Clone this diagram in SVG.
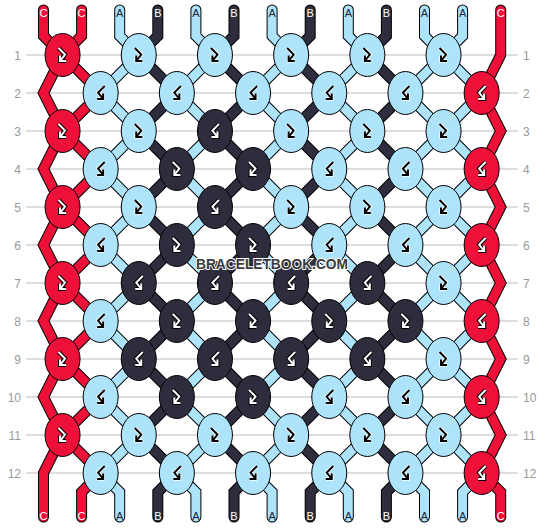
<svg xmlns="http://www.w3.org/2000/svg" xmlns:xlink="http://www.w3.org/1999/xlink" width="544" height="528" viewBox="0 0 544 528">
<style>
.grid{stroke:#bbb;stroke-width:1}
.rn{font-family:"Liberation Sans",Arial,sans-serif;font-size:12px;fill:#999}
.sl{font-family:"Liberation Sans",Arial,sans-serif;font-size:11px;text-anchor:middle}
.lw{fill:#fff}.lk{fill:#223}
.o{fill:none;stroke:#000;stroke-width:11;stroke-linecap:round;stroke-linejoin:miter}
.f{fill:none;stroke-width:9;stroke-linecap:round;stroke-linejoin:miter}
.fC{stroke:#ED1039}.fA{stroke:#ADE3FB}.fB{stroke:#2E2D3D}
.nC{fill:#ED1039;stroke:#000;stroke-width:1}
.nA{fill:#ADE3FB;stroke:#000;stroke-width:1}
.nB{fill:#2E2D3D;stroke:#000;stroke-width:1}
.wm{font-family:"Liberation Sans",Arial,sans-serif;font-weight:bold;font-size:15px;fill:#3a3a3a;stroke:#fff;stroke-width:2;paint-order:stroke;text-anchor:middle}
</style>
<defs>
<path id="ic" d="M-4,-7 L2.5,-0.5 L-2.5,6 M-2.5,0.5 L-2.5,6 L3.5,6"/>
<g id="fbW" fill="none"><use href="#ic" stroke="#000" stroke-width="4"/><use href="#ic" stroke="#fff" stroke-width="2"/></g>
<g id="fbK" fill="none"><use href="#ic" stroke="#fff" stroke-width="3.5"/><use href="#ic" stroke="#000" stroke-width="2"/></g>
<g id="bfW" transform="scale(-1,1)"><use href="#fbW"/></g>
<g id="bfK" transform="scale(-1,1)"><use href="#fbK"/></g>
<polyline id="s0" points="43.5,10 43.5,36 62.55,55 43.5,93 62.55,131 43.5,169 62.55,207 43.5,245 62.55,283 43.5,321 62.55,359 43.5,397 62.55,435 43.5,473 43.5,492 43.5,517"/>
<polyline id="s1" points="81.6,10 81.6,36 62.55,55 100.65,93 62.55,131 100.65,169 62.55,207 100.65,245 62.55,283 100.65,321 62.55,359 100.65,397 62.55,435 100.65,473 81.6,492 81.6,517"/>
<polyline id="s2" points="119.7,10 119.7,36 138.75,55 100.65,93 138.75,131 100.65,169 138.75,207 100.65,245 138.75,283 100.65,321 138.75,359 100.65,397 138.75,435 100.65,473 119.7,492 119.7,517"/>
<polyline id="s3" points="157.8,10 157.8,36 138.75,55 176.85,93 138.75,131 176.85,169 138.75,207 176.85,245 138.75,283 176.85,321 138.75,359 176.85,397 138.75,435 176.85,473 157.8,492 157.8,517"/>
<polyline id="s4" points="195.9,10 195.9,36 214.95,55 176.85,93 214.95,131 176.85,169 214.95,207 176.85,245 214.95,283 176.85,321 214.95,359 176.85,397 214.95,435 176.85,473 195.9,492 195.9,517"/>
<polyline id="s5" points="234,10 234,36 214.95,55 253.05,93 214.95,131 253.05,169 214.95,207 253.05,245 214.95,283 253.05,321 214.95,359 253.05,397 214.95,435 253.05,473 234,492 234,517"/>
<polyline id="s6" points="272.1,10 272.1,36 291.15,55 253.05,93 291.15,131 253.05,169 291.15,207 253.05,245 291.15,283 253.05,321 291.15,359 253.05,397 291.15,435 253.05,473 272.1,492 272.1,517"/>
<polyline id="s7" points="310.2,10 310.2,36 291.15,55 329.25,93 291.15,131 329.25,169 291.15,207 329.25,245 291.15,283 329.25,321 291.15,359 329.25,397 291.15,435 329.25,473 310.2,492 310.2,517"/>
<polyline id="s8" points="348.3,10 348.3,36 367.35,55 329.25,93 367.35,131 329.25,169 367.35,207 329.25,245 367.35,283 329.25,321 367.35,359 329.25,397 367.35,435 329.25,473 348.3,492 348.3,517"/>
<polyline id="s9" points="386.4,10 386.4,36 367.35,55 405.45,93 367.35,131 405.45,169 367.35,207 405.45,245 367.35,283 405.45,321 367.35,359 405.45,397 367.35,435 405.45,473 386.4,492 386.4,517"/>
<polyline id="s10" points="424.5,10 424.5,36 443.55,55 405.45,93 443.55,131 405.45,169 443.55,207 405.45,245 443.55,283 405.45,321 443.55,359 405.45,397 443.55,435 405.45,473 424.5,492 424.5,517"/>
<polyline id="s11" points="462.6,10 462.6,36 443.55,55 481.65,93 443.55,131 481.65,169 443.55,207 481.65,245 443.55,283 481.65,321 443.55,359 481.65,397 443.55,435 481.65,473 462.6,492 462.6,517"/>
<polyline id="s12" points="500.7,10 500.7,36 500.7,55 481.65,93 500.7,131 481.65,169 500.7,207 481.65,245 500.7,283 481.65,321 500.7,359 481.65,397 500.7,435 481.65,473 500.7,492 500.7,517"/>
</defs>
<rect width="544" height="528" fill="#fff"/>
<g id="grid">
<line class="grid" x1="26" y1="55" x2="518" y2="55"/>
<line class="grid" x1="26" y1="93" x2="518" y2="93"/>
<line class="grid" x1="26" y1="131" x2="518" y2="131"/>
<line class="grid" x1="26" y1="169" x2="518" y2="169"/>
<line class="grid" x1="26" y1="207" x2="518" y2="207"/>
<line class="grid" x1="26" y1="245" x2="518" y2="245"/>
<line class="grid" x1="26" y1="283" x2="518" y2="283"/>
<line class="grid" x1="26" y1="321" x2="518" y2="321"/>
<line class="grid" x1="26" y1="359" x2="518" y2="359"/>
<line class="grid" x1="26" y1="397" x2="518" y2="397"/>
<line class="grid" x1="26" y1="435" x2="518" y2="435"/>
<line class="grid" x1="26" y1="473" x2="518" y2="473"/>
</g>
<g id="row-numbers" class="rn">
<g text-anchor="end">
<text x="21" y="59.5">1</text><text x="21" y="97.5">2</text><text x="21" y="135.5">3</text><text x="21" y="173.5">4</text><text x="21" y="211.5">5</text><text x="21" y="249.5">6</text><text x="21" y="287.5">7</text><text x="21" y="325.5">8</text><text x="21" y="363.5">9</text><text x="21" y="401.5">10</text><text x="21" y="439.5">11</text><text x="21" y="477.5">12</text>
</g>
<g text-anchor="start">
<text x="523" y="59.5">1</text><text x="523" y="97.5">2</text><text x="523" y="135.5">3</text><text x="523" y="173.5">4</text><text x="523" y="211.5">5</text><text x="523" y="249.5">6</text><text x="523" y="287.5">7</text><text x="523" y="325.5">8</text><text x="523" y="363.5">9</text><text x="523" y="401.5">10</text><text x="523" y="439.5">11</text><text x="523" y="477.5">12</text>
</g>
</g>
<g id="connectors">
<g class="o">
<use href="#s0"/><use href="#s1"/><use href="#s2"/><use href="#s3"/><use href="#s4"/><use href="#s5"/><use href="#s6"/><use href="#s7"/><use href="#s8"/><use href="#s9"/><use href="#s10"/><use href="#s11"/><use href="#s12"/>
</g>
<g class="f">
<use href="#s0" class="fC"/><use href="#s1" class="fC"/><use href="#s2" class="fA"/><use href="#s3" class="fB"/><use href="#s4" class="fA"/><use href="#s5" class="fB"/><use href="#s6" class="fA"/><use href="#s7" class="fB"/><use href="#s8" class="fA"/><use href="#s9" class="fB"/><use href="#s10" class="fA"/><use href="#s11" class="fA"/><use href="#s12" class="fC"/>
</g>
</g>
<g id="strand-labels" class="sl">
<text x="43.5" y="16.5" class="lw">C</text><text x="81.6" y="16.5" class="lw">C</text><text x="119.7" y="16.5" class="lk">A</text><text x="157.8" y="16.5" class="lw">B</text><text x="195.9" y="16.5" class="lk">A</text><text x="234" y="16.5" class="lw">B</text><text x="272.1" y="16.5" class="lk">A</text><text x="310.2" y="16.5" class="lw">B</text><text x="348.3" y="16.5" class="lk">A</text><text x="386.4" y="16.5" class="lw">B</text><text x="424.5" y="16.5" class="lk">A</text><text x="462.6" y="16.5" class="lk">A</text><text x="500.7" y="16.5" class="lw">C</text>
<text x="43.5" y="520" class="lw">C</text><text x="81.6" y="520" class="lw">C</text><text x="119.7" y="520" class="lk">A</text><text x="157.8" y="520" class="lw">B</text><text x="195.9" y="520" class="lk">A</text><text x="234" y="520" class="lw">B</text><text x="272.1" y="520" class="lk">A</text><text x="310.2" y="520" class="lw">B</text><text x="348.3" y="520" class="lk">A</text><text x="386.4" y="520" class="lw">B</text><text x="424.5" y="520" class="lk">A</text><text x="462.6" y="520" class="lk">A</text><text x="500.7" y="520" class="lw">C</text>
</g>
<g id="nodes">
<!-- row 1 -->
<g id="n1-1"><ellipse class="nC" cx="62.55" cy="55" rx="17.5" ry="21.5"/><use href="#fbW" x="62.55" y="55"/></g>
<g id="n1-2"><ellipse class="nA" cx="138.75" cy="55" rx="17.5" ry="21.5"/><use href="#fbK" x="138.75" y="55"/></g>
<g id="n1-3"><ellipse class="nA" cx="214.95" cy="55" rx="17.5" ry="21.5"/><use href="#fbK" x="214.95" y="55"/></g>
<g id="n1-4"><ellipse class="nA" cx="291.15" cy="55" rx="17.5" ry="21.5"/><use href="#fbK" x="291.15" y="55"/></g>
<g id="n1-5"><ellipse class="nA" cx="367.35" cy="55" rx="17.5" ry="21.5"/><use href="#fbK" x="367.35" y="55"/></g>
<g id="n1-6"><ellipse class="nA" cx="443.55" cy="55" rx="17.5" ry="21.5"/><use href="#fbK" x="443.55" y="55"/></g>
<!-- row 2 -->
<g id="n2-1"><ellipse class="nA" cx="100.65" cy="93" rx="17.5" ry="21.5"/><use href="#bfK" x="100.65" y="93"/></g>
<g id="n2-2"><ellipse class="nA" cx="176.85" cy="93" rx="17.5" ry="21.5"/><use href="#bfK" x="176.85" y="93"/></g>
<g id="n2-3"><ellipse class="nA" cx="253.05" cy="93" rx="17.5" ry="21.5"/><use href="#bfK" x="253.05" y="93"/></g>
<g id="n2-4"><ellipse class="nA" cx="329.25" cy="93" rx="17.5" ry="21.5"/><use href="#bfK" x="329.25" y="93"/></g>
<g id="n2-5"><ellipse class="nA" cx="405.45" cy="93" rx="17.5" ry="21.5"/><use href="#bfK" x="405.45" y="93"/></g>
<g id="n2-6"><ellipse class="nC" cx="481.65" cy="93" rx="17.5" ry="21.5"/><use href="#bfW" x="481.65" y="93"/></g>
<!-- row 3 -->
<g id="n3-1"><ellipse class="nC" cx="62.55" cy="131" rx="17.5" ry="21.5"/><use href="#fbW" x="62.55" y="131"/></g>
<g id="n3-2"><ellipse class="nA" cx="138.75" cy="131" rx="17.5" ry="21.5"/><use href="#fbK" x="138.75" y="131"/></g>
<g id="n3-3"><ellipse class="nB" cx="214.95" cy="131" rx="17.5" ry="21.5"/><use href="#bfW" x="214.95" y="131"/></g>
<g id="n3-4"><ellipse class="nA" cx="291.15" cy="131" rx="17.5" ry="21.5"/><use href="#fbK" x="291.15" y="131"/></g>
<g id="n3-5"><ellipse class="nA" cx="367.35" cy="131" rx="17.5" ry="21.5"/><use href="#fbK" x="367.35" y="131"/></g>
<g id="n3-6"><ellipse class="nA" cx="443.55" cy="131" rx="17.5" ry="21.5"/><use href="#fbK" x="443.55" y="131"/></g>
<!-- row 4 -->
<g id="n4-1"><ellipse class="nA" cx="100.65" cy="169" rx="17.5" ry="21.5"/><use href="#bfK" x="100.65" y="169"/></g>
<g id="n4-2"><ellipse class="nB" cx="176.85" cy="169" rx="17.5" ry="21.5"/><use href="#fbW" x="176.85" y="169"/></g>
<g id="n4-3"><ellipse class="nB" cx="253.05" cy="169" rx="17.5" ry="21.5"/><use href="#fbW" x="253.05" y="169"/></g>
<g id="n4-4"><ellipse class="nA" cx="329.25" cy="169" rx="17.5" ry="21.5"/><use href="#bfK" x="329.25" y="169"/></g>
<g id="n4-5"><ellipse class="nA" cx="405.45" cy="169" rx="17.5" ry="21.5"/><use href="#bfK" x="405.45" y="169"/></g>
<g id="n4-6"><ellipse class="nC" cx="481.65" cy="169" rx="17.5" ry="21.5"/><use href="#bfW" x="481.65" y="169"/></g>
<!-- row 5 -->
<g id="n5-1"><ellipse class="nC" cx="62.55" cy="207" rx="17.5" ry="21.5"/><use href="#fbW" x="62.55" y="207"/></g>
<g id="n5-2"><ellipse class="nA" cx="138.75" cy="207" rx="17.5" ry="21.5"/><use href="#fbK" x="138.75" y="207"/></g>
<g id="n5-3"><ellipse class="nB" cx="214.95" cy="207" rx="17.5" ry="21.5"/><use href="#bfW" x="214.95" y="207"/></g>
<g id="n5-4"><ellipse class="nA" cx="291.15" cy="207" rx="17.5" ry="21.5"/><use href="#fbK" x="291.15" y="207"/></g>
<g id="n5-5"><ellipse class="nA" cx="367.35" cy="207" rx="17.5" ry="21.5"/><use href="#fbK" x="367.35" y="207"/></g>
<g id="n5-6"><ellipse class="nA" cx="443.55" cy="207" rx="17.5" ry="21.5"/><use href="#fbK" x="443.55" y="207"/></g>
<!-- row 6 -->
<g id="n6-1"><ellipse class="nA" cx="100.65" cy="245" rx="17.5" ry="21.5"/><use href="#bfK" x="100.65" y="245"/></g>
<g id="n6-2"><ellipse class="nB" cx="176.85" cy="245" rx="17.5" ry="21.5"/><use href="#fbW" x="176.85" y="245"/></g>
<g id="n6-3"><ellipse class="nB" cx="253.05" cy="245" rx="17.5" ry="21.5"/><use href="#fbW" x="253.05" y="245"/></g>
<g id="n6-4"><ellipse class="nA" cx="329.25" cy="245" rx="17.5" ry="21.5"/><use href="#bfK" x="329.25" y="245"/></g>
<g id="n6-5"><ellipse class="nA" cx="405.45" cy="245" rx="17.5" ry="21.5"/><use href="#bfK" x="405.45" y="245"/></g>
<g id="n6-6"><ellipse class="nC" cx="481.65" cy="245" rx="17.5" ry="21.5"/><use href="#bfW" x="481.65" y="245"/></g>
<!-- row 7 -->
<g id="n7-1"><ellipse class="nC" cx="62.55" cy="283" rx="17.5" ry="21.5"/><use href="#fbW" x="62.55" y="283"/></g>
<g id="n7-2"><ellipse class="nB" cx="138.75" cy="283" rx="17.5" ry="21.5"/><use href="#bfW" x="138.75" y="283"/></g>
<g id="n7-3"><ellipse class="nB" cx="214.95" cy="283" rx="17.5" ry="21.5"/><use href="#bfW" x="214.95" y="283"/></g>
<g id="n7-4"><ellipse class="nB" cx="291.15" cy="283" rx="17.5" ry="21.5"/><use href="#bfW" x="291.15" y="283"/></g>
<g id="n7-5"><ellipse class="nB" cx="367.35" cy="283" rx="17.5" ry="21.5"/><use href="#bfW" x="367.35" y="283"/></g>
<g id="n7-6"><ellipse class="nA" cx="443.55" cy="283" rx="17.5" ry="21.5"/><use href="#fbK" x="443.55" y="283"/></g>
<!-- row 8 -->
<g id="n8-1"><ellipse class="nA" cx="100.65" cy="321" rx="17.5" ry="21.5"/><use href="#bfK" x="100.65" y="321"/></g>
<g id="n8-2"><ellipse class="nB" cx="176.85" cy="321" rx="17.5" ry="21.5"/><use href="#fbW" x="176.85" y="321"/></g>
<g id="n8-3"><ellipse class="nB" cx="253.05" cy="321" rx="17.5" ry="21.5"/><use href="#fbW" x="253.05" y="321"/></g>
<g id="n8-4"><ellipse class="nB" cx="329.25" cy="321" rx="17.5" ry="21.5"/><use href="#fbW" x="329.25" y="321"/></g>
<g id="n8-5"><ellipse class="nB" cx="405.45" cy="321" rx="17.5" ry="21.5"/><use href="#fbW" x="405.45" y="321"/></g>
<g id="n8-6"><ellipse class="nC" cx="481.65" cy="321" rx="17.5" ry="21.5"/><use href="#bfW" x="481.65" y="321"/></g>
<!-- row 9 -->
<g id="n9-1"><ellipse class="nC" cx="62.55" cy="359" rx="17.5" ry="21.5"/><use href="#fbW" x="62.55" y="359"/></g>
<g id="n9-2"><ellipse class="nB" cx="138.75" cy="359" rx="17.5" ry="21.5"/><use href="#bfW" x="138.75" y="359"/></g>
<g id="n9-3"><ellipse class="nB" cx="214.95" cy="359" rx="17.5" ry="21.5"/><use href="#bfW" x="214.95" y="359"/></g>
<g id="n9-4"><ellipse class="nB" cx="291.15" cy="359" rx="17.5" ry="21.5"/><use href="#bfW" x="291.15" y="359"/></g>
<g id="n9-5"><ellipse class="nB" cx="367.35" cy="359" rx="17.5" ry="21.5"/><use href="#bfW" x="367.35" y="359"/></g>
<g id="n9-6"><ellipse class="nA" cx="443.55" cy="359" rx="17.5" ry="21.5"/><use href="#fbK" x="443.55" y="359"/></g>
<!-- row 10 -->
<g id="n10-1"><ellipse class="nA" cx="100.65" cy="397" rx="17.5" ry="21.5"/><use href="#bfK" x="100.65" y="397"/></g>
<g id="n10-2"><ellipse class="nB" cx="176.85" cy="397" rx="17.5" ry="21.5"/><use href="#fbW" x="176.85" y="397"/></g>
<g id="n10-3"><ellipse class="nB" cx="253.05" cy="397" rx="17.5" ry="21.5"/><use href="#fbW" x="253.05" y="397"/></g>
<g id="n10-4"><ellipse class="nA" cx="329.25" cy="397" rx="17.5" ry="21.5"/><use href="#bfK" x="329.25" y="397"/></g>
<g id="n10-5"><ellipse class="nA" cx="405.45" cy="397" rx="17.5" ry="21.5"/><use href="#bfK" x="405.45" y="397"/></g>
<g id="n10-6"><ellipse class="nC" cx="481.65" cy="397" rx="17.5" ry="21.5"/><use href="#bfW" x="481.65" y="397"/></g>
<!-- row 11 -->
<g id="n11-1"><ellipse class="nC" cx="62.55" cy="435" rx="17.5" ry="21.5"/><use href="#fbW" x="62.55" y="435"/></g>
<g id="n11-2"><ellipse class="nA" cx="138.75" cy="435" rx="17.5" ry="21.5"/><use href="#fbK" x="138.75" y="435"/></g>
<g id="n11-3"><ellipse class="nA" cx="214.95" cy="435" rx="17.5" ry="21.5"/><use href="#fbK" x="214.95" y="435"/></g>
<g id="n11-4"><ellipse class="nA" cx="291.15" cy="435" rx="17.5" ry="21.5"/><use href="#fbK" x="291.15" y="435"/></g>
<g id="n11-5"><ellipse class="nA" cx="367.35" cy="435" rx="17.5" ry="21.5"/><use href="#fbK" x="367.35" y="435"/></g>
<g id="n11-6"><ellipse class="nA" cx="443.55" cy="435" rx="17.5" ry="21.5"/><use href="#fbK" x="443.55" y="435"/></g>
<!-- row 12 -->
<g id="n12-1"><ellipse class="nA" cx="100.65" cy="473" rx="17.5" ry="21.5"/><use href="#bfK" x="100.65" y="473"/></g>
<g id="n12-2"><ellipse class="nA" cx="176.85" cy="473" rx="17.5" ry="21.5"/><use href="#bfK" x="176.85" y="473"/></g>
<g id="n12-3"><ellipse class="nA" cx="253.05" cy="473" rx="17.5" ry="21.5"/><use href="#bfK" x="253.05" y="473"/></g>
<g id="n12-4"><ellipse class="nA" cx="329.25" cy="473" rx="17.5" ry="21.5"/><use href="#bfK" x="329.25" y="473"/></g>
<g id="n12-5"><ellipse class="nA" cx="405.45" cy="473" rx="17.5" ry="21.5"/><use href="#bfK" x="405.45" y="473"/></g>
<g id="n12-6"><ellipse class="nC" cx="481.65" cy="473" rx="17.5" ry="21.5"/><use href="#bfW" x="481.65" y="473"/></g>
</g>
<text id="watermark" class="wm" x="272" y="269" textLength="152" lengthAdjust="spacingAndGlyphs">BRACELETBOOK.COM</text>
</svg>
